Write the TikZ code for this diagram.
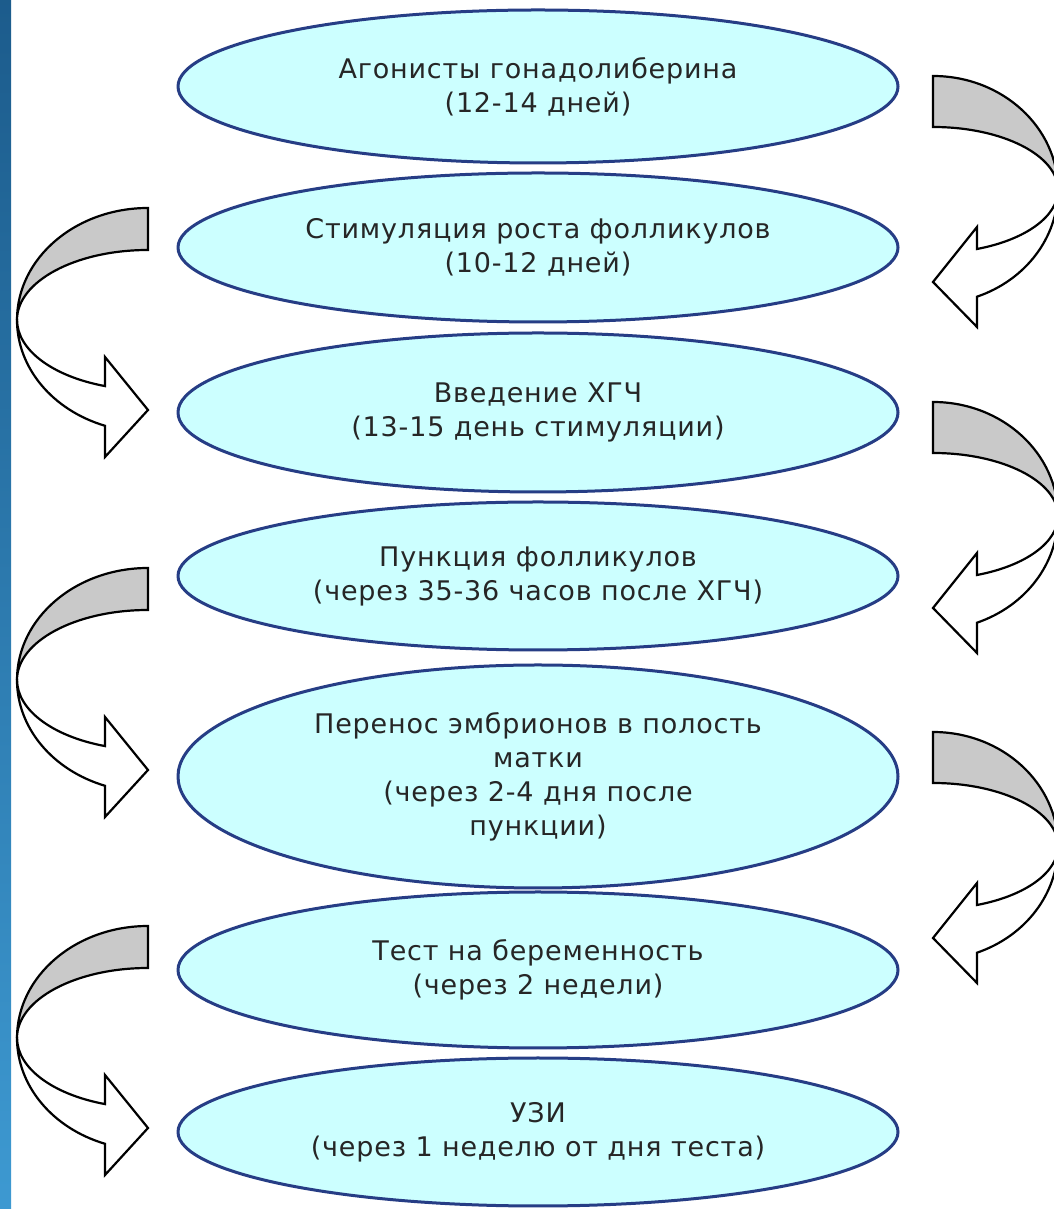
\documentclass[tikz,border=0pt]{standalone}
\usepackage[x11names, svgnames, rgb]{xcolor}
\usepackage{tikz}
\usetikzlibrary{arrows,shapes}
\usepackage{fontspec}
\setmainfont[LetterSpace=3]{DejaVu Sans}

\definecolor{fillcol}{rgb}{0.80,1.0,1.0}
\definecolor{strokecol}{rgb}{0.15,0.24,0.52}
\definecolor{shadecol}{rgb}{0.79,0.79,0.79}
\definecolor{bartop}{rgb}{0.11,0.36,0.55}
\definecolor{barbot}{rgb}{0.24,0.60,0.82}

\tikzset{
  stage/.style={ellipse, draw=strokecol, fill=fillcol, line width=3bp,
    minimum width=720bp, inner sep=0bp, align=center, text=black!85,
    font=\fontsize{27bp}{34bp}\selectfont},
  turn/.style={draw=black, line width=2.2bp, line join=miter},
}

% turn to the left, centre of the bend at #1
\newcommand{\leftturn}[1]{%
\begin{scope}[shift={(#1)}]
  \filldraw[turn, fill=shadecol] (0bp,112bp) arc[start angle=90, end angle=180, x radius=131bp, y radius=112bp]
    arc[start angle=180, end angle=90, x radius=131bp, y radius=70bp] -- cycle;
  \filldraw[turn, fill=white] (-131bp,0bp) arc[start angle=180, end angle=250.8, x radius=131bp, y radius=112bp]
    -- (-43bp,-137bp) -- (0bp,-90bp) -- (-43bp,-37bp) -- (-43bp,-66.1bp)
    arc[start angle=250.8, end angle=180, x radius=131bp, y radius=70bp] -- cycle;
\end{scope}}

% turn to the right, centre of the bend at #1
\newcommand{\rightturn}[1]{%
\begin{scope}[shift={(#1)}]
  \filldraw[turn, fill=shadecol] (0bp,114bp) arc[start angle=90, end angle=0, x radius=125bp, y radius=114bp]
    arc[start angle=0, end angle=90, x radius=125bp, y radius=63bp] -- cycle;
  \filldraw[turn, fill=white] (125bp,0bp) arc[start angle=0, end angle=-69.4, x radius=125bp, y radius=114bp]
    -- (44bp,-137bp) -- (0bp,-92bp) -- (44bp,-37bp) -- (44bp,-59bp)
    arc[start angle=-69.4, end angle=0, x radius=125bp, y radius=63bp] -- cycle;
\end{scope}}

\begin{document}
\begin{tikzpicture}[line join=bevel]
  \useasboundingbox (0bp,0bp) rectangle (1054bp,1209bp);
  \fill[white] (0bp,0bp) rectangle (1054bp,1209bp);
  \shade[top color=bartop, bottom color=barbot] (0bp,0bp) rectangle (11bp,1209bp);
%%
  % Node: agon
  \node[stage, minimum height=153bp] (agon) at (538bp,1122.5bp) {Агонисты гонадолиберина\\(12-14 дней)};
  % Node: stim
  \node[stage, minimum height=149bp] (stim) at (538bp,961.5bp) {Стимуляция роста фолликулов\\(10-12 дней)};
  % Node: hcg
  \node[stage, minimum height=159bp] (hcg) at (538bp,796.5bp) {Введение ХГЧ\\(13-15 день стимуляции)};
  % Node: punc
  \node[stage, minimum height=148bp] (punc) at (538bp,633bp) {Пункция фолликулов\\(через 35-36 часов после ХГЧ)};
  % Node: trans
  \node[stage, minimum height=223bp] (trans) at (538bp,432.5bp) {Перенос эмбрионов в полость\\матки\\(через 2-4 дня после\\пункции)};
  % Node: test
  \node[stage, minimum height=156bp] (test) at (538bp,239bp) {Тест на беременность\\(через 2 недели)};
  % Node: uzi
  \node[stage, minimum height=148bp] (uzi) at (538bp,77bp) {УЗИ\\(через 1 неделю от дня теста)};
%
  % Edge: agon -> stim
  \rightturn{933bp,1019bp}
  % Edge: stim -> hcg
  \leftturn{148bp,889bp}
  % Edge: hcg -> punc
  \rightturn{933bp,693bp}
  % Edge: punc -> trans
  \leftturn{148bp,529bp}
  % Edge: trans -> test
  \rightturn{933bp,363bp}
  % Edge: test -> uzi
  \leftturn{148bp,171bp}
%
\end{tikzpicture}
\end{document}
